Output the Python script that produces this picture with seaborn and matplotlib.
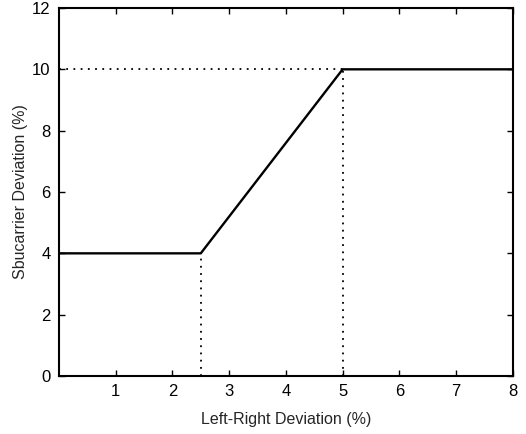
import matplotlib
matplotlib.use("Agg")
import matplotlib.pyplot as plt
import seaborn as sns
import pandas as pd

lr_dev = [0, 2.5, 5, 8]
sub_dev = [4, 4, 10, 10]
x_ticks = [1, 2, 3, 4, 5, 6, 7, 8]
y_ticks = [0, 2, 4, 6, 8, 10, 12]

sns.set_theme(style="ticks")
plt.rcParams['font.family'] = ['Liberation Sans Narrow', 'Liberation Sans', 'DejaVu Sans']

fig = plt.figure(figsize=(5.26, 4.34), dpi=100)
ax = fig.add_axes([0.112, 0.1336, 0.863, 0.848])

df = pd.DataFrame({"x": lr_dev, "y": sub_dev})
sns.lineplot(data=df, x="x", y="y", ax=ax, color="black", linewidth=1.7)

# dotted reference lines
ax.plot([lr_dev[1], lr_dev[1]], [0, sub_dev[1]], ls=(0, (1, 3)), color="black", lw=1.3)
ax.plot([lr_dev[2], lr_dev[2]], [0, sub_dev[2]], ls=(0, (1, 3)), color="black", lw=1.3)
ax.plot([0, lr_dev[2]], [sub_dev[2], sub_dev[2]], ls=(0, (1, 3)), color="black", lw=1.3)

ax.set_xlim(0, 8)
ax.set_ylim(0, 12)
ax.set_xticks(x_ticks)
ax.set_yticks(y_ticks)
ax.tick_params(direction="in", top=True, right=True, length=4, width=1, labelsize=12, colors="black", pad=6)
for s in ax.spines.values():
    s.set_linewidth(1.5)
    s.set_color("black")
ax.set_xlabel("Left-Right Deviation (%)", fontsize=11.5, labelpad=9)
ax.set_ylabel("Sbucarrier Deviation (%)", fontsize=11.5, labelpad=3)

fig.savefig("out.png", dpi=100)
